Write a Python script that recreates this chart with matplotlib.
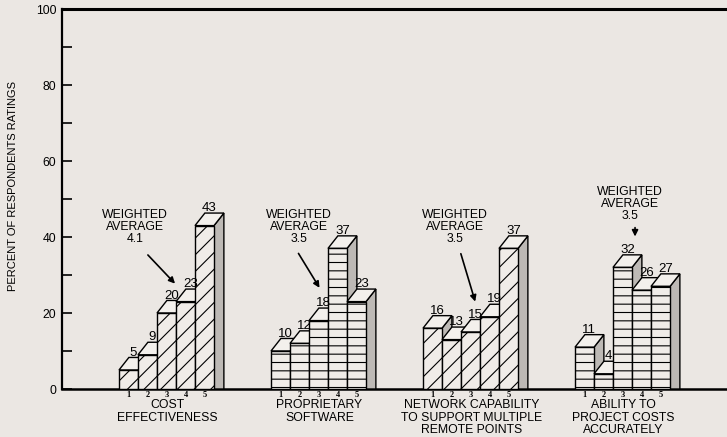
import matplotlib.pyplot as plt
from matplotlib.patches import Polygon

plt.rcParams['font.family'] = ['Liberation Sans', 'DejaVu Sans']
plt.rcParams['hatch.linewidth'] = 0.8

# data
categories = [
    "COST\nEFFECTIVENESS",
    "PROPRIETARY\nSOFTWARE",
    "NETWORK CAPABILITY\nTO SUPPORT MULTIPLE\nREMOTE POINTS",
    "ABILITY TO\nPROJECT COSTS\nACCURATELY",
]
ratings = ["1", "2", "3", "4", "5"]
cost_effectiveness = [5, 9, 20, 23, 43]
proprietary_software = [10, 12, 18, 37, 23]
network_capability = [16, 13, 15, 19, 37]
project_costs = [11, 4, 32, 26, 27]
weighted_avg = [4.1, 3.5, 3.5, 3.5]

series = [cost_effectiveness, proprietary_software, network_capability, project_costs]

# layout
group_starts = [3, 11, 19, 27]
hatches = ['//', '--', '//', '--']
DX, DY = 0.52, 3.3
BG = '#ebe7e3'
SIDE = '#bdb9b5'
# (text x, text top y, arrow start, arrow end) for the weighted average notes
notes = [
    (3.84, 47.3, (4.42, 35.8), (6.05, 27.2)),
    (12.47, 47.3, (12.37, 36.3), (13.63, 26.0)),
    (20.68, 47.3, (20.95, 36.3), (21.79, 22.3)),
    (29.9, 53.4, (30.16, 43.2), (30.16, 39.4)),
]

fig = plt.figure(figsize=(7.27, 4.37), dpi=100, facecolor=BG)
ax = fig.add_axes([62 / 727, 48 / 437, 665 / 727, 380 / 437])
ax.set_facecolor(BG)
ax.set_xlim(0, 35)
ax.set_ylim(0, 100)

for start, values, hatch in zip(group_starts, series, hatches):
    for i, v in enumerate(values):
        x0 = start + i
        z = 10 + 3 * i
        side = Polygon([(x0 + 1, 0), (x0 + 1 + DX, 0), (x0 + 1 + DX, v + DY), (x0 + 1, v)],
                       closed=True, facecolor=SIDE, edgecolor='black', lw=1.0, zorder=z)
        top = Polygon([(x0, v), (x0 + DX, v + DY), (x0 + 1 + DX, v + DY), (x0 + 1, v)],
                      closed=True, facecolor='#f3f0ec', edgecolor='black', lw=1.0, zorder=z + 1)
        ax.add_patch(side)
        ax.add_patch(top)
        ax.bar(x0, v, width=1, align='edge', facecolor='#f0ece8', edgecolor='black',
               hatch=hatch, lw=1.0, zorder=z + 2)
        ax.text(x0 + 0.5 + DX / 2, v + DY + 0.5, str(v), ha='center', va='baseline',
                fontsize=9.5, zorder=30)
        ax.text(x0 + 0.5, -1.6, ratings[i], ha='center', va='center', fontsize=6,
                family='Liberation Serif', fontweight='bold', clip_on=False)

for start, label in zip(group_starts, categories):
    ax.text(start + 2.55, -2.7, label, ha='center', va='top', fontsize=8.8,
            linespacing=1.05, clip_on=False)

for (tx, ty, a0, a1), wa in zip(notes, weighted_avg):
    ax.text(tx, ty, f"WEIGHTED\nAVERAGE\n{wa}", ha='center', va='top', fontsize=8.8,
            linespacing=1.0, zorder=30)
    ax.annotate('', xy=a1, xytext=a0,
                arrowprops=dict(arrowstyle='-|>', lw=1.2, color='black', mutation_scale=9),
                zorder=30)

ax.spines['right'].set_visible(False)
ax.spines['top'].set_linewidth(2.2)
ax.spines['left'].set_linewidth(1.6)
ax.spines['bottom'].set_linewidth(1.8)
ax.spines['top'].set_zorder(40)

ax.set_xticks([])
ax.set_yticks(range(0, 101, 20))
ax.set_yticks(range(10, 100, 20), minor=True)
ax.tick_params(axis='y', which='both', direction='in', length=7, width=1.2,
               labelsize=8.8, pad=4)
ax.set_ylabel("PERCENT OF RESPONDENTS RATINGS", fontsize=8)
ax.yaxis.set_label_coords(-0.066, 0.535)

fig.savefig('out.png', dpi=100, facecolor=BG)
